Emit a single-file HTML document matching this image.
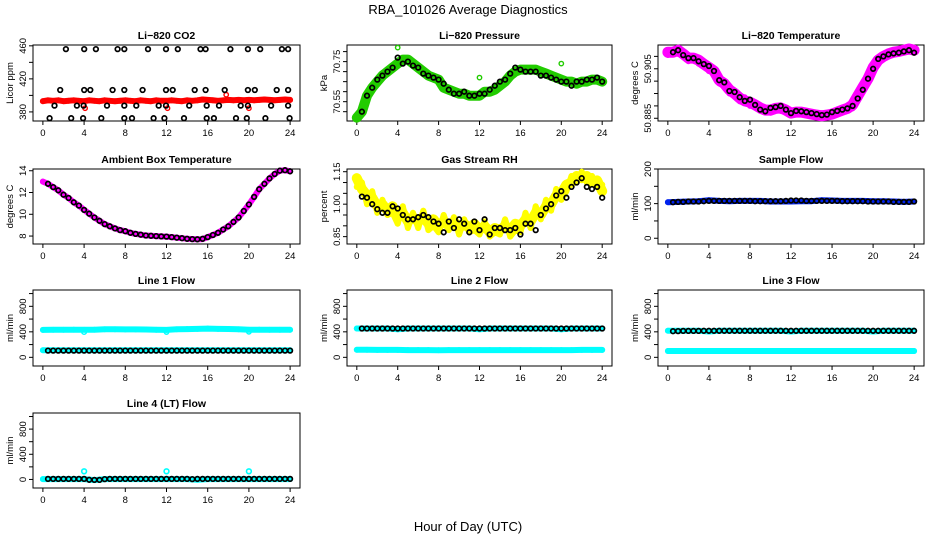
<!DOCTYPE html>
<html><head><meta charset="utf-8">
<style>
html,body{margin:0;padding:0;background:#fff;}
svg{display:block;font-family:"Liberation Sans",sans-serif;}
</style></head>
<body>
<svg id="chart" width="936" height="540" viewBox="0 0 936 540">
<rect width="936" height="540" fill="#fff"/>
<text x="468" y="14" text-anchor="middle" font-size="13">RBA_101026  Average Diagnostics</text>
<text x="468" y="531" text-anchor="middle" font-size="13">Hour of Day (UTC)</text>
</svg>
<script>
const H49=[0,0.5,1,1.5,2,2.5,3,3.5,4,4.5,5,5.5,6,6.5,7,7.5,8,8.5,9,9.5,10,10.5,11,11.5,12,12.5,13,13.5,14,14.5,15,15.5,16,16.5,17,17.5,18,18.5,19,19.5,20,20.5,21,21.5,22,22.5,23,23.5,24];
const H48=[0.5,1,1.5,2,2.5,3,3.5,4,4.5,5,5.5,6,6.5,7,7.5,8,8.5,9,9.5,10,10.5,11,11.5,12,12.5,13,13.5,14,14.5,15,15.5,16,16.5,17,17.5,18,18.5,19,19.5,20,20.5,21,21.5,22,22.5,23,23.5,24];
const H25=[0,1,2,3,4,5,6,7,8,9,10,11,12,13,14,15,16,17,18,19,20,21,22,23,24];
const xTicks=[0,4,8,12,16,20,24];

// CO2
const co2Red=[393,394,393.5,394,393,393.5,394,393.5,393,394,393.5,393,394,393.5,393,393.5,394,393.5,393,394,393.5,393,394,393.5,393.5,394,393.5,393,394,393.5,394,395,394.5,394,393.5,394,394.5,394,394.5,394,394.5,394,394.5,395,394.5,394,394.5,395,394.5];
const co2RedOutHours=[4.1,12.1,17.8,20];
const co2RedOut=[384.5,384.5,400.8,384.5];
const co2BlackHours=[2.23,4.01,5.15,7.25,7.9,10.2,11.95,13.1,15.3,15.8,18.2,19.9,21.1,23.2,23.8,
 1.68,4.01,4.6,6.77,7.9,9.68,11.95,12.6,14.74,15.8,17.65,19.9,20.57,22.7,23.8,
 1.13,3.3,3.95,6.22,7.9,9.07,11.24,11.95,14.2,15.9,17.1,19.2,19.9,22.15,23.8,
 0.65,2.75,3.9,5.67,7.9,8.65,10.75,11.8,13.7,15.9,16.6,18.75,19.8,21.6,23.95];
const co2Black=[456,456,456,456,456,456,456,456,456,456,456,456,456,456,456,
 406.5,406.5,406.5,406.5,406.5,406.5,406.5,406.5,406.5,406.5,406.5,406.5,406.5,406.5,406.5,
 387.6,387.6,387.6,387.6,387.6,387.6,387.6,387.6,387.6,387.6,387.6,387.6,387.6,387.6,387.6,
 372.4,372.4,372.4,372.4,372.4,372.4,372.4,372.4,372.4,372.4,372.4,372.4,372.4,372.4,372.4];

// Pressure
const presGreen=[70.47,70.50,70.58,70.62,70.65,70.68,70.70,70.72,70.74,70.76,70.76,70.74,70.72,70.70,70.68,70.67,70.66,70.62,70.61,70.60,70.59,70.59,70.58,70.58,70.58,70.60,70.60,70.61,70.63,70.65,70.68,70.70,70.71,70.71,70.71,70.71,70.70,70.69,70.68,70.67,70.66,70.65,70.65,70.64,70.65,70.65,70.66,70.66,70.65];
const presGreenOutHours=[4,12,20];
const presGreenOut=[70.82,70.67,70.74];
const presBlack=[70.50,70.58,70.62,70.66,70.68,70.70,70.72,70.77,70.74,70.75,70.73,70.72,70.69,70.68,70.67,70.66,70.64,70.61,70.59,70.59,70.60,70.58,70.58,70.59,70.59,70.61,70.63,70.65,70.66,70.69,70.72,70.71,70.70,70.70,70.70,70.68,70.68,70.67,70.66,70.65,70.65,70.63,70.65,70.65,70.66,70.66,70.67,70.65];

// Li-820 temperature
const tempMag=[50.9117,50.9117,50.9125,50.9110,50.9093,50.9093,50.9085,50.9069,50.9055,50.9041,50.9004,50.8990,50.8965,50.8950,50.8932,50.8920,50.8915,50.8904,50.8892,50.8883,50.8883,50.8890,50.8892,50.8883,50.8871,50.8875,50.8875,50.8871,50.8867,50.8863,50.8860,50.8863,50.8867,50.8875,50.8883,50.8890,50.8904,50.8940,50.8975,50.9010,50.9055,50.9085,50.9100,50.9110,50.9117,50.9120,50.9125,50.9130,50.9125];
const tempMag2=[50.9105,50.9125,50.9110,50.9100,50.9080,50.9100,50.9070,50.9075,50.9040,50.9050,50.8990,50.9000,50.8950,50.8962,50.8918,50.8935,50.8900,50.8915,50.8880,50.8892,50.8872,50.8898,50.8880,50.8890,50.8865,50.8882,50.8866,50.8880,50.8858,50.8870,50.8852,50.8872,50.8858,50.8885,50.8872,50.8902,50.8890,50.8955,50.8960,50.9025,50.9040,50.9095,50.9090,50.9118,50.9108,50.9128,50.9118,50.9135,50.9118];
const tempBlack=[50.9117,50.9125,50.9105,50.9093,50.9093,50.9080,50.9069,50.9061,50.9041,50.9004,50.8995,50.8960,50.8956,50.8935,50.8920,50.8925,50.8904,50.8885,50.8878,50.8892,50.8895,50.8900,50.8885,50.8871,50.8880,50.8878,50.8875,50.8871,50.8867,50.8863,50.8865,50.8875,50.8880,50.8885,50.8890,50.8900,50.8930,50.8965,50.9010,50.9050,50.9090,50.9100,50.9108,50.9112,50.9115,50.9120,50.9125,50.9115];

// Ambient box temperature
const ambMag=[13.0,12.8,12.5,12.2,11.8,11.5,11.1,10.8,10.4,10.05,9.7,9.4,9.1,8.9,8.7,8.55,8.45,8.3,8.2,8.12,8.05,8.02,8.0,7.97,7.95,7.9,7.85,7.8,7.75,7.72,7.7,7.72,7.9,8.1,8.3,8.6,8.9,9.3,9.7,10.3,10.9,11.6,12.3,12.8,13.3,13.7,14.0,14.05,13.95];
const ambBlack=[12.8,12.5,12.2,11.8,11.5,11.1,10.8,10.4,10.05,9.7,9.4,9.1,8.9,8.7,8.55,8.45,8.3,8.2,8.12,8.05,8.02,8.0,7.97,7.95,7.9,7.85,7.8,7.75,7.72,7.7,7.75,7.9,8.1,8.3,8.6,8.9,9.3,9.7,10.3,10.9,11.6,12.3,12.8,13.3,13.7,14.0,14.05,13.95];

// Gas stream RH
const rhYellow=[1.12,1.07,1.04,1.03,0.99,1.00,0.97,0.99,0.94,0.96,0.92,0.94,0.92,0.94,0.91,0.93,0.90,0.92,0.90,0.92,0.89,0.91,0.89,0.91,0.88,0.90,0.87,0.89,0.88,0.90,0.88,0.91,0.90,0.93,0.92,0.96,0.95,0.99,1.00,1.04,1.05,1.09,1.10,1.13,1.12,1.13,1.10,1.11,1.06];
const rhYellow2=[1.08,1.10,1.00,1.06,0.96,1.02,0.95,0.96,0.91,0.99,0.89,0.96,0.89,0.97,0.88,0.90,0.87,0.95,0.88,0.94,0.86,0.93,0.87,0.88,0.86,0.92,0.85,0.87,0.86,0.93,0.85,0.88,0.87,0.96,0.89,0.99,0.93,1.02,0.97,1.07,1.02,1.06,1.13,1.10,1.15,1.10,1.13,1.08,1.09];
const rhBlack=[1.035,1.03,1.00,0.977,0.96,0.96,0.99,0.98,0.95,0.93,0.93,0.94,0.95,0.94,0.92,0.91,0.87,0.92,0.89,0.93,0.91,0.87,0.92,0.88,0.93,0.86,0.89,0.89,0.88,0.88,0.89,0.86,0.91,0.91,0.88,0.95,0.98,1.00,1.04,1.06,1.03,1.08,1.10,1.12,1.08,1.07,1.08,1.03];

// Sample flow
const sampleBlue=[104,105,106,107,110,108,107,108,108,108,106,106,106,107,107,110,109,108,108,108,107,107,106,105,106];
const sampleBlack=[104,105,105,106,106,106,107,108,108,108,108,108,108,108,108,108,107,107,107,107,107,107,108,109,109,109,108,108,108,108,108,108,108,107,107,107,107,107,106,106,106,106,106,105,105,105,105,106];

// Line flows
const l1CyanHi=[430,432,432,433,432,434,440,440,438,438,436,432,430,440,442,446,450,446,444,440,432,434,432,432,432];
const l1CyanHiOutHours=[4,12,20];
const l1CyanHiOut=[395,398,400];
const l1CyanLo=[112,112,112,112,112,112,112,112,112,112,112,112,112,112,112,112,112,112,112,112,112,112,112,112,112];
const l1Black=[105,105,105,105,105,105,105,105,105,105,105,105,105,105,105,105,105,105,105,105,105,105,105,105,105,105,105,105,105,105,105,105,105,105,105,105,105,105,105,105,105,105,105,105,105,105,105,105];
const l2CyanHi=[452,452,452,452,440,452,452,452,452,452,452,452,440,452,452,452,452,452,452,452,440,452,452,452,452];
const l2CyanLo=[118,118,116,116,116,114,114,114,112,114,114,114,114,114,114,114,114,114,114,114,114,114,116,116,116];
const l2Black=[452,452,452,452,452,452,452,452,452,452,452,452,452,452,452,452,452,452,452,452,452,452,452,452,452,452,452,452,452,452,452,452,452,452,452,452,452,452,452,452,452,452,452,452,452,452,452,452];
const l3CyanHi=[418,418,418,418,405,418,418,418,418,418,418,418,405,418,418,418,418,418,418,418,405,418,418,418,418];
const l3CyanLo=[100,100,100,100,100,100,100,100,100,100,100,100,100,100,100,100,100,100,100,100,100,100,100,100,100];
const l3Black=[410,412,414,415,415,415,416,416,416,416,416,416,416,416,416,416,416,416,416,416,416,416,416,416,416,416,416,416,416,416,416,416,416,416,416,416,416,416,416,416,416,416,416,416,416,416,416,416];
const l4Cyan=[5,5,5,5,5,-10,5,5,5,5,5,5,5,5,5,-5,5,5,5,5,5,5,5,5,5];
const l4CyanOutHours=[4,12,20];
const l4CyanOut=[130,130,130];
const l4Black=[8,8,8,8,8,8,8,8,-5,-8,-8,5,8,8,8,8,8,8,8,8,8,8,8,8,8,8,8,8,5,8,8,8,8,8,8,8,8,8,8,8,8,8,8,8,8,8,8,8];

const NS="http://www.w3.org/2000/svg";
const svg=document.getElementById('chart');
function mk(tag,attrs,parent){const e=document.createElementNS(NS,tag);for(const k in attrs)e.setAttribute(k,attrs[k]);(parent||svg).appendChild(e);return e;}

const cols=[[33,300],[347,612],[658,924]];
const rows=[[45,121],[169,244],[290,366],[413,488]];

function panel(name,title,ylab,col,row,ylo,yhi,yticks,ylabels){
  const [x0,x1]=cols[col],[y0,y1]=rows[row];
  const g=mk('g',{});
  
  
  const sx=t=>x0+(t+0.96)/25.92*(x1-x0);
  const sy=v=>y1-(v-ylo)/(yhi-ylo)*(y1-y0);
  const t=mk('text',{x:(x0+x1)/2,y:y0-6,'text-anchor':'middle','font-size':'10.5','font-weight':'bold'},g);
  t.textContent=title;
  
  
  const box=mk('rect',{x:x0,y:y0,width:x1-x0,height:y1-y0,fill:'none',stroke:'#000','stroke-width':1},g);
  
  
  const xa=mk('g',{},g);
  
  
  mk('line',{x1:sx(0),x2:sx(24),y1:y1,y2:y1,stroke:'#000'},xa);
  xTicks.forEach(v=>{
    mk('line',{x1:sx(v),x2:sx(v),y1:y1,y2:y1+4,stroke:'#000'},xa);
    const l=mk('text',{x:sx(v),y:y1+15,'text-anchor':'middle','font-size':'9.5'},xa);
    l.textContent=v;
  });
  const ya=mk('g',{},g);
  
  
  mk('line',{x1:x0,x2:x0,y1:sy(yticks[0]),y2:sy(yticks[yticks.length-1]),stroke:'#000'},ya);
  yticks.forEach(v=>{mk('line',{x1:x0-4,x2:x0,y1:sy(v),y2:sy(v),stroke:'#000'},ya);});
  ylabels.forEach(v=>{
    const yy=sy(v);
    const l=mk('text',{x:x0-7,y:yy,'text-anchor':'middle','font-size':'9.5',transform:`rotate(-90 ${x0-7} ${yy})`},ya);
    l.textContent=v;
  });
  const yt=mk('text',{x:x0-20,y:(y0+y1)/2,'text-anchor':'middle','font-size':'9.5',transform:`rotate(-90 ${x0-20} ${(y0+y1)/2})`},g);
  yt.textContent=ylab;
  
  
  return {g,sx,sy};
}
function pts(p,name,hours,vals,color,r,sw){
  const g=mk('g',{fill:'none',stroke:color,'stroke-width':sw},p.g);
  
  
  const n=Math.min(hours.length,vals.length);
  for(let i=0;i<n;i++){
    mk('circle',{cx:p.sx(hours[i]).toFixed(1),cy:p.sy(vals[i]).toFixed(1),r:r},g);
  }
}
function band(p,name,hours,vals,color,w){
  const g=mk('g',{},p.g);
  
  
  const n=Math.min(hours.length,vals.length);
  let d='';
  for(let i=0;i<n;i++){d+=(i?'L':'M')+p.sx(hours[i]).toFixed(1)+' '+p.sy(vals[i]).toFixed(1);}
  mk('path',{d:d,fill:'none',stroke:color,'stroke-width':w,'stroke-linejoin':'round','stroke-linecap':'round'},g);
  const cg=mk('g',{fill:'none',stroke:color,'stroke-width':1.5},g);
  for(let i=0;i<n;i++){mk('circle',{cx:p.sx(hours[i]).toFixed(1),cy:p.sy(vals[i]).toFixed(1),r:2.2},cg);}
}
const BR=2.3,BW=1.7;

let p=panel('co2','Li−820 CO2','Licor ppm',0,0,369,461,[380,400,420,440,460],[380,420,460]);
band(p,'co2-red-series',H49,co2Red,'#ff0000',6);
pts(p,'co2-red-outliers',co2RedOutHours,co2RedOut,'#ff0000',2.2,1.4);
pts(p,'co2-black-series',co2BlackHours,co2Black,'#000',BR,BW);

p=panel('pressure','Li−820 Pressure','kPa',1,0,70.4535,70.833,[70.50,70.55,70.60,70.65,70.70,70.75,70.80],['70.55','70.75']);
band(p,'pressure-green-series',H49,presGreen,'#22cc00',10);
pts(p,'pressure-green-outliers',presGreenOutHours,presGreenOut,'#22cc00',2.2,1.4);
pts(p,'pressure-black-series',H48,presBlack,'#000',BR,BW);

p=panel('li820-temp','Li−820 Temperature','degrees C',2,0,50.8839,50.9146,[50.885,50.89,50.895,50.9,50.905,50.91],['50.885','50.905']);
band(p,'temp-magenta-series',H49,tempMag,'#ff00ff',11);
band(p,'temp-magenta-series-2',H49,tempMag2,'#ff00ff',5);
pts(p,'temp-black-series',H48,tempBlack,'#000',BR,BW);

p=panel('ambient','Ambient Box Temperature','degrees C',0,1,7.27,14.16,[8,10,12,14],[8,10,12,14]);
band(p,'ambient-magenta-series',H49,ambMag,'#ff00ff',6);
pts(p,'ambient-black-series',H48,ambBlack,'#000',BR,BW);

p=panel('rh','Gas Stream RH','percent',1,1,0.816,1.1625,[0.85,0.90,0.95,1.00,1.05,1.10,1.15],['0.85','1.00','1.15']);
band(p,'rh-yellow-series',H49,rhYellow,'#ffff00',10);
band(p,'rh-yellow-series-2',H49,rhYellow2,'#ffff00',6);
pts(p,'rh-black-series',H48,rhBlack,'#000',BR,BW);

p=panel('sample-flow','Sample Flow','ml/min',2,1,-16.6,200,[0,50,100,150,200],[0,100,200]);
band(p,'sample-blue-series',H25,sampleBlue,'#0022ee',6);
pts(p,'sample-black-series',H48,sampleBlack,'#000',BR,BW);

const fT=[0,200,400,600,800,1000],fL=[0,400,800];
p=panel('line1','Line 1 Flow','ml/min',0,2,-136,1056,fT,fL);
band(p,'line1-cyan-high',H25,l1CyanHi,'#00ffff',6);
pts(p,'line1-cyan-high-outliers',l1CyanHiOutHours,l1CyanHiOut,'#00ffff',2.2,1.5);
band(p,'line1-cyan-low',H25,l1CyanLo,'#00ffff',6);
pts(p,'line1-black-series',H48,l1Black,'#000',BR,BW);

p=panel('line2','Line 2 Flow','ml/min',1,2,-136,1056,fT,fL);
band(p,'line2-cyan-high',H25,l2CyanHi,'#00ffff',6);
band(p,'line2-cyan-low',H25,l2CyanLo,'#00ffff',6);
pts(p,'line2-black-series',H48,l2Black,'#000',BR,BW);

p=panel('line3','Line 3 Flow','ml/min',2,2,-136,1056,fT,fL);
band(p,'line3-cyan-high',H25,l3CyanHi,'#00ffff',6);
band(p,'line3-cyan-low',H25,l3CyanLo,'#00ffff',6);
pts(p,'line3-black-series',H48,l3Black,'#000',BR,BW);

p=panel('line4','Line 4 (LT) Flow','ml/min',0,3,-136,1056,fT,fL);
band(p,'line4-cyan-series',H25,l4Cyan,'#00ffff',6);
pts(p,'line4-cyan-outliers',l4CyanOutHours,l4CyanOut,'#00ffff',2.4,1.6);
pts(p,'line4-black-series',H48,l4Black,'#000',BR,BW);
</script>
</body></html>
